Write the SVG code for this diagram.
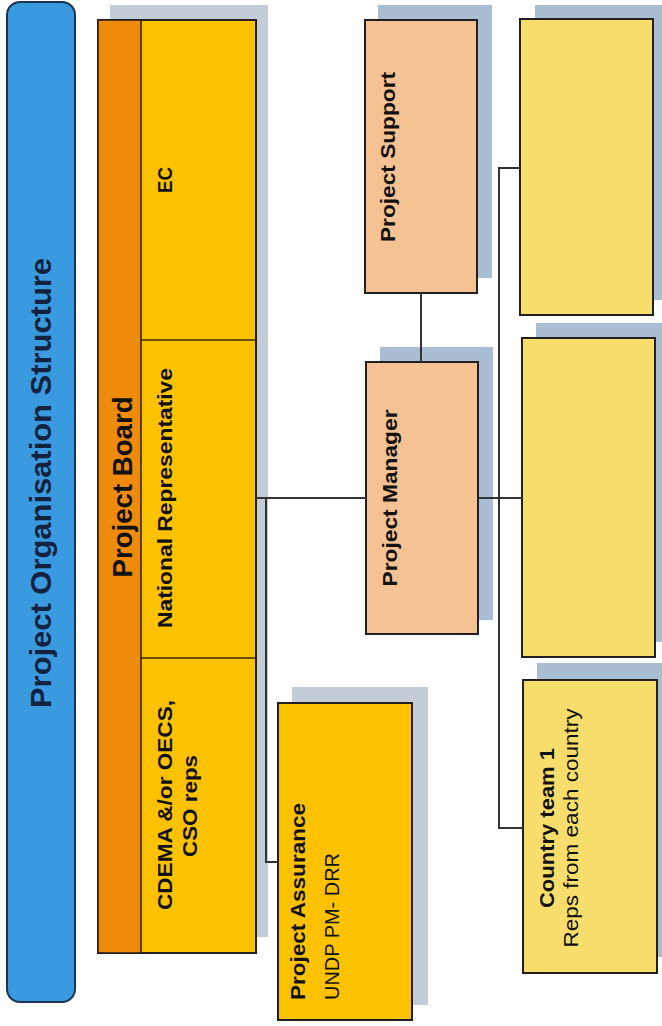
<svg xmlns="http://www.w3.org/2000/svg" width="662" height="1026" viewBox="0 0 662 1026">
<style>
.box{stroke:#231f20;stroke-width:2}
.sh{fill:#a9bdd3}
.shl{fill:#c3ccd7}
.t{font-family:"Liberation Sans",Arial,sans-serif;fill:#111}
.b{font-weight:bold}
.conn{stroke:#333;stroke-width:2;fill:none}
.yel{fill:#fcc200}
.pea{fill:#f5c293}
.lyel{fill:#f7de6c}
</style>
<rect width="662" height="1026" fill="#ffffff"/>

<g id="title">
<rect x="7" y="2" width="68" height="1000" rx="13" ry="13" fill="#3a9ae0" stroke="#1d3550" stroke-width="2"/>
<text class="t b" transform="translate(51,483) rotate(-90)" text-anchor="middle" font-size="30" textLength="450" lengthAdjust="spacingAndGlyphs" style="fill:#13233f">Project Organisation Structure</text>
</g>

<g id="project-board">
<rect class="shl" x="110" y="5" width="158" height="932"/>
<rect x="98" y="20" width="158" height="933" fill="#fcc200" stroke="#231f20" stroke-width="2"/>
<rect x="98" y="20" width="43" height="933" fill="#ee8a0c" stroke="#231f20" stroke-width="1.5"/>
<line x1="141" y1="340" x2="256" y2="340" stroke="#3a2a10" stroke-width="1.5"/>
<line x1="141" y1="658" x2="256" y2="658" stroke="#3a2a10" stroke-width="1.5"/>
<text class="t b" transform="translate(132,487) rotate(-90)" text-anchor="middle" font-size="28" textLength="181" lengthAdjust="spacingAndGlyphs">Project Board</text>
</g>

<g id="ec">
<text class="t b" transform="translate(172,180) rotate(-90)" text-anchor="middle" font-size="21" textLength="26" lengthAdjust="spacingAndGlyphs">EC</text>
</g>

<g id="national-rep">
<text class="t b" transform="translate(172,498) rotate(-90)" text-anchor="middle" font-size="21" textLength="260" lengthAdjust="spacingAndGlyphs">National Representative</text>
</g>

<g id="cdema">
<text class="t b" transform="translate(172,805) rotate(-90)" text-anchor="middle" font-size="21" textLength="210" lengthAdjust="spacingAndGlyphs">CDEMA &amp;/or OECS,</text>
<text class="t b" transform="translate(197,806) rotate(-90)" text-anchor="middle" font-size="21" textLength="102" lengthAdjust="spacingAndGlyphs">CSO reps</text>
</g>

<g id="project-assurance">
<rect class="shl" x="292" y="687" width="136" height="318"/>
<rect class="box yel" x="278" y="703" width="134" height="317"/>
<text class="t b" transform="translate(305,1000) rotate(-90)" font-size="21" textLength="197" lengthAdjust="spacingAndGlyphs">Project Assurance</text>
<text class="t" transform="translate(339,1000) rotate(-90)" font-size="20" textLength="147" lengthAdjust="spacingAndGlyphs">UNDP PM- DRR</text>
</g>

<g id="project-support">
<rect class="sh" x="378" y="5" width="114" height="273"/>
<rect class="box pea" x="365" y="20" width="112" height="273"/>
<text class="t b" transform="translate(395,157) rotate(-90)" text-anchor="middle" font-size="21" textLength="170" lengthAdjust="spacingAndGlyphs">Project Support</text>
</g>

<g id="project-manager">
<rect class="sh" x="380" y="347" width="113" height="273"/>
<rect class="box pea" x="366" y="362" width="112" height="272"/>
<text class="t b" transform="translate(397,498) rotate(-90)" text-anchor="middle" font-size="21" textLength="177" lengthAdjust="spacingAndGlyphs">Project Manager</text>
</g>

<g id="team-a">
<rect class="sh" x="535" y="5" width="135" height="295"/>
<rect class="box lyel" x="520" y="19" width="133" height="296"/>
</g>

<g id="team-b">
<rect class="sh" x="536" y="323" width="134" height="319"/>
<rect class="box lyel" x="522" y="338" width="133" height="319"/>
</g>

<g id="country-team-1">
<rect class="sh" x="537" y="663" width="133" height="294"/>
<rect class="box lyel" x="523" y="680" width="134" height="293"/>
<text class="t b" transform="translate(554,828) rotate(-90)" text-anchor="middle" font-size="21" textLength="160" lengthAdjust="spacingAndGlyphs">Country team 1</text>
<text class="t" transform="translate(578,828) rotate(-90)" text-anchor="middle" font-size="20" textLength="239" lengthAdjust="spacingAndGlyphs">Reps from each country</text>
</g>

<g id="connectors">
<polyline class="conn" points="256,498 366,498"/>
<polyline class="conn" points="266,498 266,862 278,862"/>
<polyline class="conn" points="421,293 421,362"/>
<polyline class="conn" points="478,498 522,498"/>
<polyline class="conn" points="520,168 499,168 499,828 523,828"/>
</g>
</svg>
